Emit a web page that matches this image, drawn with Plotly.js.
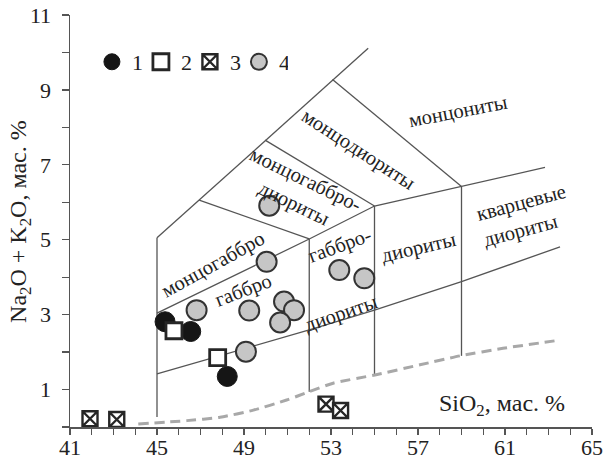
<!DOCTYPE html>
<html>
<head>
<meta charset="utf-8">
<script src="https://cdn.plot.ly/plotly-3.0.1.min.js"></script>
<style>html,body{margin:0;padding:0;background:#fff}</style>
</head>
<body>
<div id="chart" style="width:604px;height:463px"></div>
<script>
// Sample groups: SiO2 (wt.%) and Na2O + K2O (wt.%)
const g1Si  = [45.37, 46.55, 48.23];
const g1Alk = [2.81, 2.55, 1.35];
const g2Si  = [45.78, 47.79];
const g2Alk = [2.57, 1.85];
const g3Si  = [41.92, 43.15, 52.77, 53.44];
const g3Alk = [0.22, 0.20, 0.61, 0.44];
const g4Si  = [46.82, 49.24, 50.04, 50.84, 51.30, 50.66, 53.38, 54.53, 49.09, 50.16];
const g4Alk = [3.12, 3.11, 4.41, 3.35, 3.12, 2.79, 4.19, 3.97, 2.01, 5.91];

// Classification field boundaries
const bLeftX  = [45, 45];          const bLeftY  = [0.27, 5.05];
const bTopX   = [45, 54.71];       const bTopY   = [5.05, 10.11];
const bA_X    = [46.94, 52];       const bA_Y    = [6.06, 5.02];
const bB_X    = [49.97, 55];       const bB_Y    = [7.66, 5.90];
const bC_X    = [53.07, 59];       const bC_Y    = [9.28, 6.42];
const bMidX   = [45, 52, 55, 59, 62.84];   const bMidY = [3.04, 5.02, 5.90, 6.42, 6.93];
const bLowX   = [45, 52, 55, 59, 63.53];   const bLowY = [1.42, 2.59, 3.12, 3.88, 4.81];
const v52X = [52, 52]; const v52Y = [0.94, 5.02];
const v55X = [55, 55]; const v55Y = [1.39, 5.90];
const v59X = [59, 59]; const v59Y = [1.90, 6.42];
// lower limit curve
const limX = [44.14, 46.37, 47.9, 49.43, 50.96, 51.99, 53.1, 55.02, 57.09, 58.93, 60.91, 63.53];
const limY = [0.08, 0.17, 0.26, 0.45, 0.72, 0.94, 1.17, 1.39, 1.66, 1.90, 2.10, 2.32];

// Field names
const fieldText = ['монцогаббро', 'габбро', 'габбро-', 'диориты', 'диориты',
  'кварцевые<br>диориты', 'монцониты', 'монцодиориты', 'монцогаббро-<br>диориты'];
const fieldX = [47.59, 48.97, 53.41, 53.45, 57.05, 61.90, 58.82, 54.26, 51.57];
const fieldY = [4.33, 3.64, 4.84, 3.04, 4.78, 5.64, 8.42, 7.40, 6.27];
const fieldAngle = [-29, -21, -20, -19, -13, -15, -11, 33, 26];
const fieldAlign = ['center','center','center','center','center','left','center','center','center'];

// Axis ticks: labelled values and unit step for the small ticks
const xLabelVals = [41, 45, 49, 53, 57, 61, 65];
const yLabelVals = [1, 3, 5, 7, 9, 11];

const serif = '"Liberation Serif", "Times New Roman", serif';
const lineCol = '#555';

function boundary(x, y) {
  return {x: x, y: y, type: 'scatter', mode: 'lines', showlegend: false, hoverinfo: 'skip',
          line: {color: lineCol, width: 1.3}};
}

const traces = [
  boundary(bLeftX, bLeftY), boundary(bTopX, bTopY), boundary(bA_X, bA_Y),
  boundary(bB_X, bB_Y), boundary(bC_X, bC_Y), boundary(bMidX, bMidY),
  boundary(bLowX, bLowY), boundary(v52X, v52Y), boundary(v55X, v55Y), boundary(v59X, v59Y),
  {x: limX, y: limY, type: 'scatter', mode: 'lines', showlegend: false, hoverinfo: 'skip',
   line: {color: '#a8a8a8', width: 3, dash: '10px,6px', shape: 'spline', smoothing: 0.6}},
  {x: g1Si, y: g1Alk, name: '1', type: 'scatter', mode: 'markers',
   marker: {symbol: 'circle', size: 20, color: '#151515', line: {color: '#151515', width: 1}}},
  {x: g2Si, y: g2Alk, name: '2', type: 'scatter', mode: 'markers',
   marker: {symbol: 'square', size: 16, color: '#ffffff', line: {color: '#262626', width: 2.8}}},
  {x: g3Si, y: g3Alk, name: '3', type: 'scatter', mode: 'markers', cliponaxis: false,
   marker: {symbol: 'square-x', size: 15, color: '#ffffff', line: {color: '#262626', width: 2.4}}},
  {x: g4Si, y: g4Alk, name: '4', type: 'scatter', mode: 'markers',
   marker: {symbol: 'circle', size: 20, color: '#c6c6c6', line: {color: '#333333', width: 2}}}
];

const annotations = fieldText.map((t, i) => ({
  x: fieldX[i], y: fieldY[i], xref: 'x', yref: 'y', text: t, showarrow: false,
  textangle: fieldAngle[i], align: fieldAlign[i],
  font: {family: serif, size: 20.5, color: '#222'}
}));
// x-axis caption inside the plot area
annotations.push({
  x: 0.828, y: 0.053, xref: 'paper', yref: 'paper', xanchor: 'center', yanchor: 'middle',
  text: 'SiO<sub>2</sub>, мас. %',
  showarrow: false, font: {family: serif, size: 24, color: '#222'}
});
// y-axis caption
annotations.push({
  x: -0.096, y: 0.50, xref: 'paper', yref: 'paper', xanchor: 'center', yanchor: 'middle',
  textangle: -90, text: 'Na<sub>2</sub>O + K<sub>2</sub>O, мас. %',
  showarrow: false, font: {family: serif, size: 24, color: '#222'}
});

const axisCommon = {
  showgrid: false, zeroline: false, showline: true, linecolor: lineCol, linewidth: 1.5,
  ticks: 'outside', tickcolor: lineCol, tickwidth: 1.2,
  tickfont: {family: serif, size: 22, color: '#222'}
};

const layout = {
  width: 604, height: 463,
  margin: {l: 70, r: 12, t: 15, b: 36},
  paper_bgcolor: '#fff', plot_bgcolor: '#fff',
  font: {family: serif, color: '#222'},
  xaxis: Object.assign({}, axisCommon, {
    range: [41, 65], tickmode: 'array', tickvals: xLabelVals, ticklen: 6,
    ticklabelstandoff: -6,
    minor: {dtick: 1, tick0: 41, ticks: 'outside', ticklen: 6, tickcolor: lineCol, tickwidth: 1.2, showgrid: false}
  }),
  yaxis: Object.assign({}, axisCommon, {
    range: [0, 11], tickmode: 'array', tickvals: yLabelVals, ticklen: 7,
    ticklabelstandoff: 6,
    minor: {dtick: 1, tick0: 0, ticks: 'outside', ticklen: 7, tickcolor: lineCol, tickwidth: 1.2, showgrid: false}
  }),
  xaxis2: {range: [41, 65], overlaying: 'x', side: 'top', anchor: 'y', showgrid: false, zeroline: false,
    showline: true, linecolor: lineCol, linewidth: 1.5, ticks: 'inside', ticklen: 5, tickcolor: lineCol,
    tickwidth: 1.2, tickmode: 'linear', tick0: 41, dtick: 1, showticklabels: false},
  yaxis2: {range: [0, 11], overlaying: 'y', side: 'right', anchor: 'x', showgrid: false, zeroline: false,
    showline: true, linecolor: lineCol, linewidth: 1.5, ticks: 'inside', ticklen: 6, tickcolor: lineCol,
    tickwidth: 1.2, tickmode: 'linear', tick0: 0, dtick: 1, showticklabels: false},
  showlegend: true,
  legend: {orientation: 'h', x: 0.042, y: 0.886, xanchor: 'left', yanchor: 'middle',
    font: {family: serif, size: 22, color: '#222'}, bgcolor: 'rgba(0,0,0,0)',
    entrywidth: 4, itemclick: false, itemdoubleclick: false},
  annotations: annotations
};

Plotly.newPlot('chart', traces, layout, {displayModeBar: false, staticPlot: true});
</script>
</body>
</html>
